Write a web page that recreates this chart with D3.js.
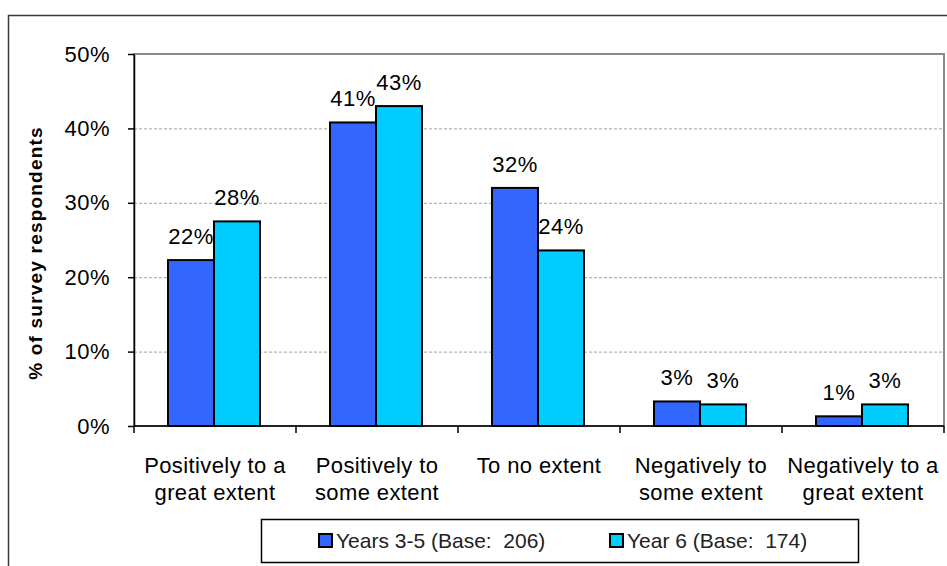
<!DOCTYPE html>
<html>
<head>
<meta charset="utf-8">
<script src="https://cdn.jsdelivr.net/npm/d3@7"></script>
<style>
  body { margin: 0; background: #fff; }
  svg { font-family: "Liberation Sans", Arial, sans-serif; display: block; }
</style>
</head>
<body>
<svg id="chart"></svg>
<script>
// data
const categories = ["Positively to a\ngreat extent", "Positively to\nsome extent", "To no extent", "Negatively to\nsome extent", "Negatively to a\ngreat extent"];
const seriesNames = ["Years 3-5 (Base:  206)", "Year 6 (Base:  174)"];
const years35 = [22.3, 40.8, 32.0, 3.3, 1.3];
const year6 = [27.5, 43.0, 23.6, 2.9, 2.9];
const yTicks = [0, 10, 20, 30, 40, 50];
const colors = ["#3366ff", "#00ccff"];

const w = 947, h = 566;
const svg = d3.select('#chart')
  .attr('width', w)
  .attr('height', h);

// outer chart frame (runs off the right and bottom)
svg.append('rect')
  .attr('x', 8.5).attr('y', 15.5)
  .attr('width', 980).attr('height', 600)
  .attr('fill', 'none')
  .attr('stroke', '#3a3a3a')
  .attr('stroke-width', 1.5);

const plot = { left: 134, right: 944, top: 54, bottom: 426 };

const x = d3.scaleBand()
  .domain(categories)
  .range([plot.left, plot.right]);

const xSub = d3.scaleBand()
  .domain(seriesNames)
  .range([34, 126]);

const y = d3.scaleLinear()
  .domain([0, 50])
  .range([plot.bottom, plot.top]);

// plot area border
svg.append('rect')
  .attr('x', plot.left).attr('y', plot.top)
  .attr('width', plot.right - plot.left)
  .attr('height', plot.bottom - plot.top)
  .attr('fill', 'none')
  .attr('stroke', '#8a8a8a')
  .attr('stroke-width', 2);

// gridlines
svg.append('g')
  .selectAll('line')
  .data(yTicks.filter(d => d > 0 && d < 50))
  .join('line')
  .attr('x1', plot.left).attr('x2', plot.right)
  .attr('y1', d => y(d) + 0.5).attr('y2', d => y(d) + 0.5)
  .attr('stroke', '#a0a0a0')
  .attr('stroke-dasharray', '3,2');

// y axis
const yAxis = d3.axisLeft(y)
  .tickValues(yTicks)
  .tickFormat(d => d + '%')
  .tickSize(6)
  .tickSizeOuter(0)
  .tickPadding(18);

const gy = svg.append('g')
  .attr('transform', `translate(${plot.left},0)`)
  .call(yAxis);
gy.select('.domain').attr('stroke', '#000').attr('stroke-width', 1.5);
gy.selectAll('.tick line').attr('stroke', '#000').attr('stroke-width', 1.5);
gy.selectAll('.tick text')
  .attr('font-family', '"Liberation Sans", Arial, sans-serif')
  .attr('font-size', 22)
  .attr('letter-spacing', 0.5)
  .attr('fill', '#000');

// x axis line + ticks at category boundaries
const gx = svg.append('g');
gx.append('line')
  .attr('x1', plot.left).attr('x2', plot.right)
  .attr('y1', plot.bottom).attr('y2', plot.bottom)
  .attr('stroke', '#000').attr('stroke-width', 1.5);
gx.selectAll('.xt')
  .data(categories.map(c => x(c)).concat([plot.right]))
  .join('line')
  .attr('class', 'xt')
  .attr('x1', d => d).attr('x2', d => d)
  .attr('y1', plot.bottom).attr('y2', plot.bottom + 7)
  .attr('stroke', '#000').attr('stroke-width', 1.5);

// category labels
gx.selectAll('.xl')
  .data(categories)
  .join('text')
  .attr('class', 'xl')
  .attr('text-anchor', 'middle')
  .attr('font-size', 22)
  .attr('letter-spacing', 0.4)
  .each(function (c) {
    const t = d3.select(this);
    c.split('\n').forEach((line, i) => {
      t.append('tspan')
        .attr('x', x(c) + x.bandwidth() / 2)
        .attr('y', 473 + i * 27)
        .text(line);
    });
  });

// bars
const rows = categories.map((c, i) => ({ cat: c, values: [years35[i], year6[i]] }));

const groups = svg.append('g')
  .selectAll('g')
  .data(rows)
  .join('g')
  .attr('transform', d => `translate(${x(d.cat)},0)`);

groups.selectAll('rect')
  .data(d => d.values.map((v, j) => ({ name: seriesNames[j], v, j })))
  .join('rect')
  .attr('x', d => xSub(d.name))
  .attr('y', d => y(d.v))
  .attr('width', xSub.bandwidth())
  .attr('height', d => y(0) - y(d.v))
  .attr('fill', d => colors[d.j])
  .attr('stroke', '#000')
  .attr('stroke-width', 2);

groups.selectAll('text')
  .data(d => d.values.map((v, j) => ({ name: seriesNames[j], v, j })))
  .join('text')
  .attr('x', d => xSub(d.name) + xSub.bandwidth() / 2)
  .attr('y', d => y(d.v) - 16)
  .attr('text-anchor', 'middle')
  .attr('font-size', 22)
  .attr('letter-spacing', 0.5)
  .text(d => Math.round(d.v) + '%');

// y title
svg.append('text')
  .attr('transform', 'translate(42,253) rotate(-90)')
  .attr('text-anchor', 'middle')
  .attr('font-size', 19)
  .attr('font-weight', 'bold')
  .attr('letter-spacing', 1.2)
  .text('% of survey respondents');

// legend
const legend = svg.append('g');
legend.append('rect')
  .attr('x', 261.5).attr('y', 519.5)
  .attr('width', 597).attr('height', 43)
  .attr('fill', '#fff')
  .attr('stroke', '#000')
  .attr('stroke-width', 1.5);

const legendX = [319, 610];
const items = legend.selectAll('.li')
  .data(seriesNames)
  .join('g')
  .attr('class', 'li')
  .attr('transform', (d, i) => `translate(${legendX[i]},534)`);
items.append('rect')
  .attr('width', 13).attr('height', 13)
  .attr('fill', (d, i) => colors[i])
  .attr('stroke', '#000')
  .attr('stroke-width', 2);
items.append('text')
  .attr('x', 17).attr('y', 14)
  .attr('font-size', 21)
  .attr('fill', '#222')
  .attr('xml:space', 'preserve')
  .style('white-space', 'pre')
  .text(d => d);
</script>
</body>
</html>
